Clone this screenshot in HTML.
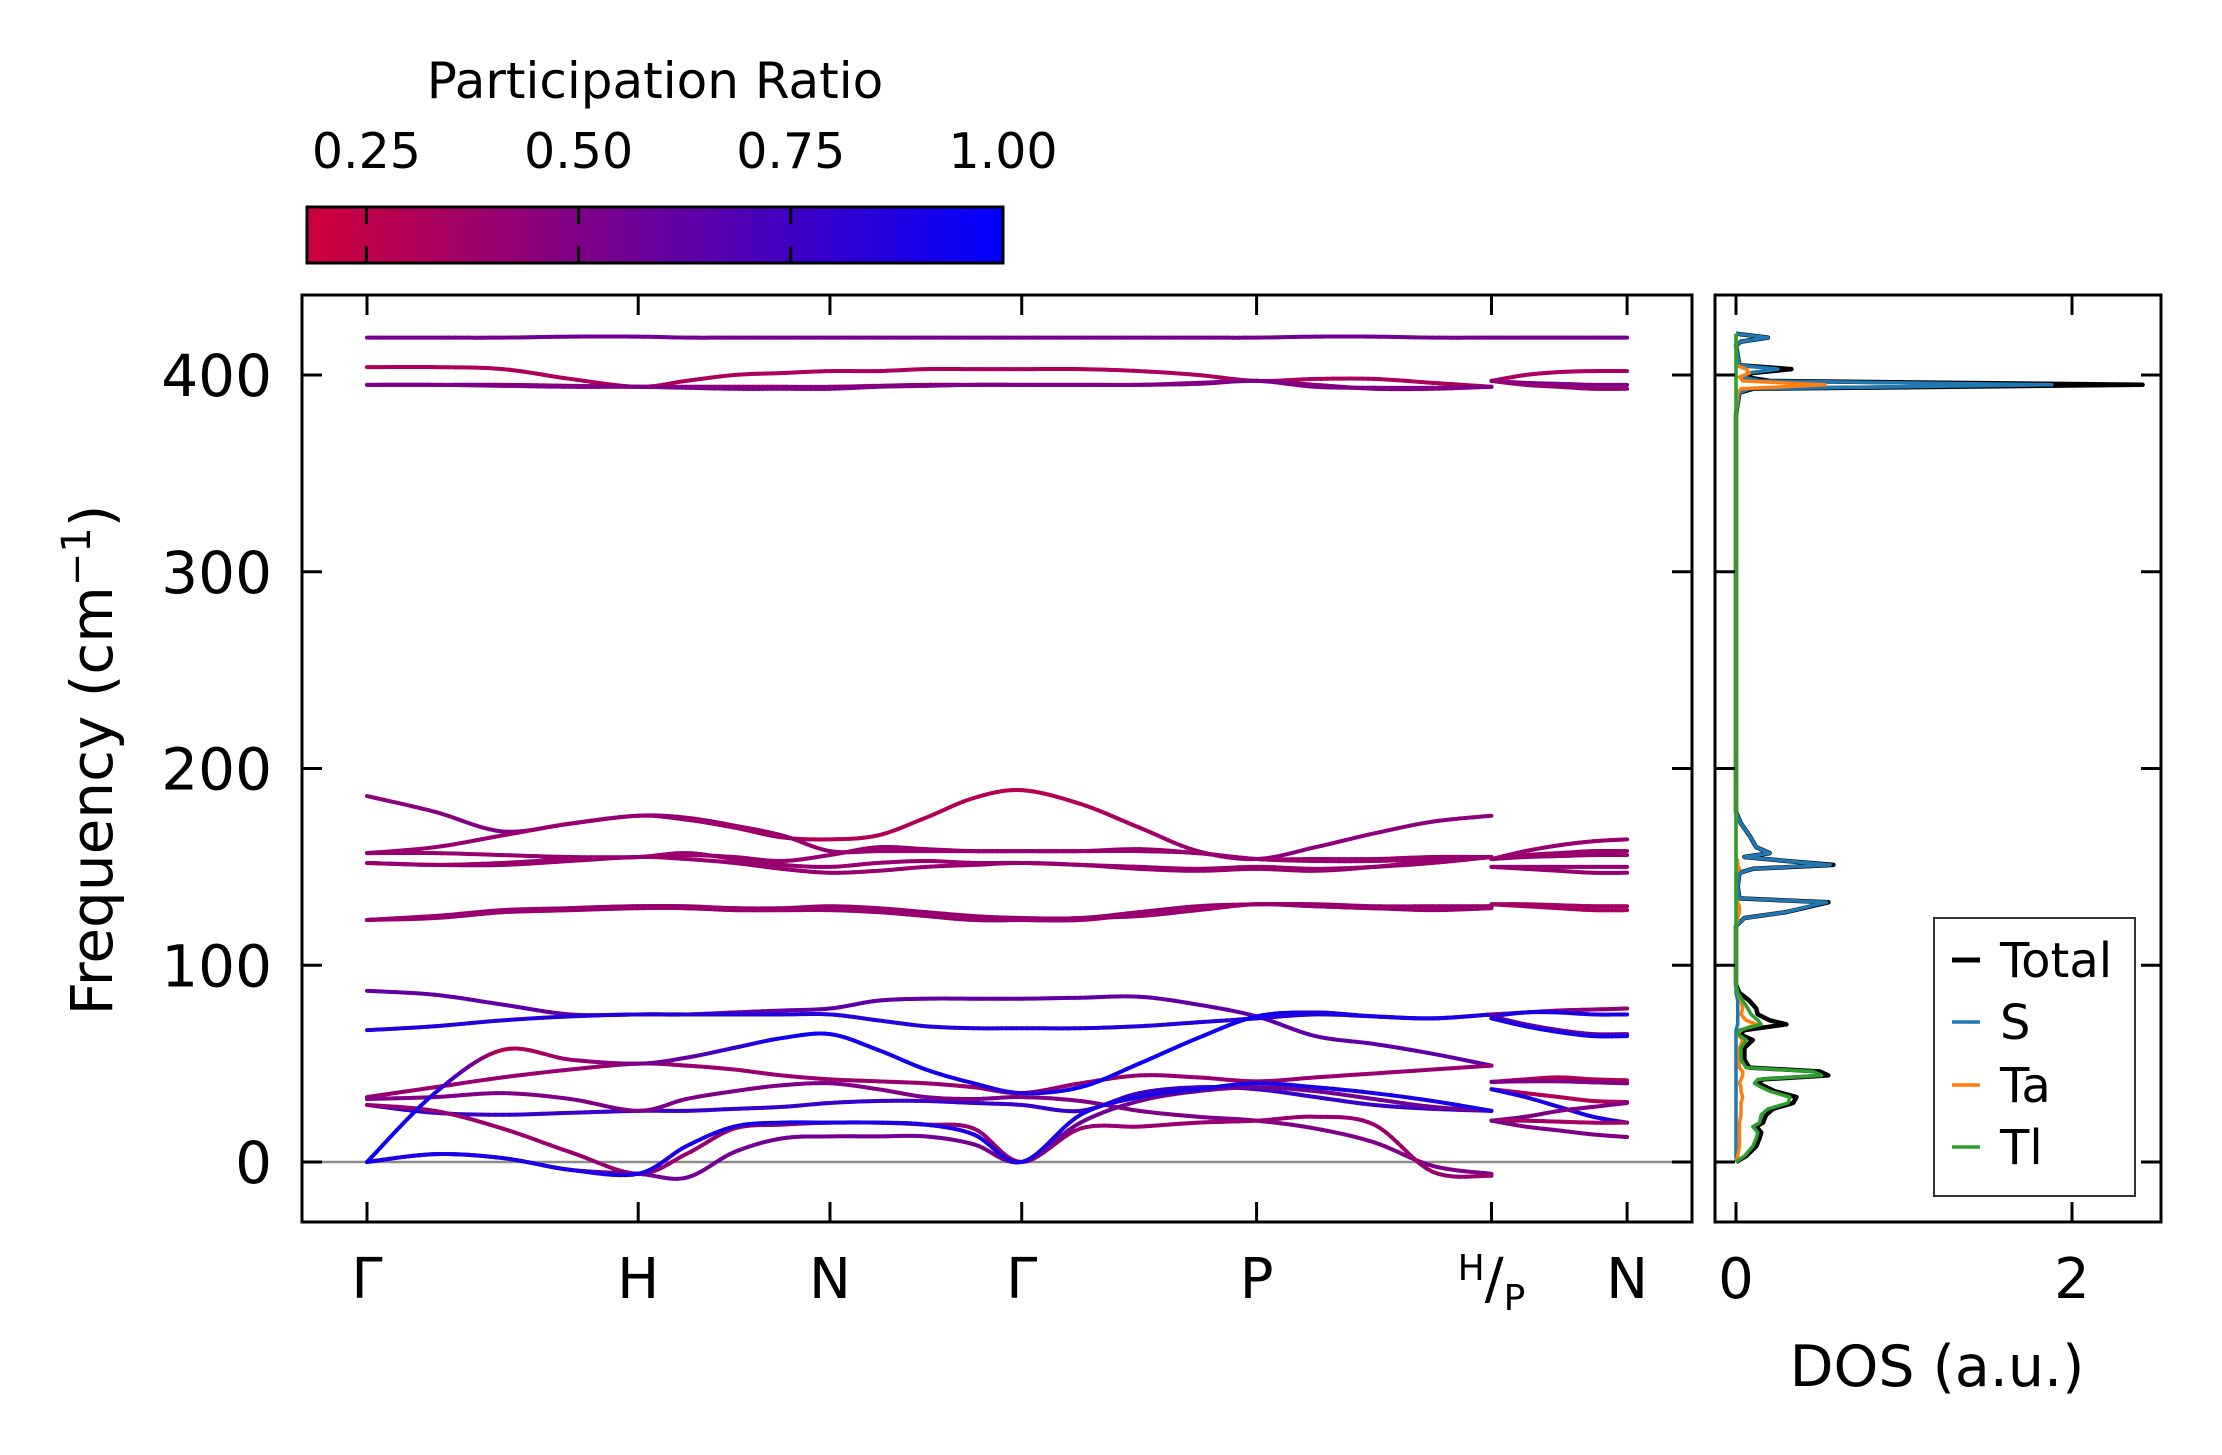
<!DOCTYPE html>
<html><head><meta charset="utf-8"><style>
html,body{margin:0;padding:0;background:#fff;}
svg{display:block;font-family:"DejaVu Sans","Liberation Sans",sans-serif;}
</style></head><body>
<svg id="fig" width="2222" height="1455" viewBox="0 0 2222 1455" xmlns="http://www.w3.org/2000/svg">
<defs><linearGradient id="cbgrad" x1="0" x2="1" y1="0" y2="0"><stop offset="0" stop-color="rgb(208,0,58)"/><stop offset="1" stop-color="rgb(0,0,255)"/></linearGradient></defs>
<rect width="2222" height="1455" fill="#fff"/>
<g id="cbar"></g>
<g id="bands"></g>
<g id="dos"></g>
</svg>
<script>
// ---------- data ----------
const kLabels = ["Γ","H","N","Γ","P","H/P","N"];
const kPos = [0, 1, 1.7071, 2.4142, 3.2802, 4.1463, 4.6463];
const yTicks = [0,100,200,300,400];
const cbTicks = [0.25,0.5,0.75,1.0];
const cbTickLabels = ["0.25","0.50","0.75","1.00"];
// path A nodes: Γ a1 a2 a3 H | b1 b2 b3 N | c1 c2 c3 Γ | d1 d2 d3 P | e1 e2 e3 H
const bandH1 = [419,419,419,419.5,419.5,419,419,419,419,419,419,419,419,419,419,419,419,419.5,419.5,419,419];
const bandH2 = [404,404,403,398,394,397,400,401,402,402,403,403,403,403,402,400,397,398,398,396,394];
const bandH3 = [395,395,395,394.5,394,394,394,394,394,394.5,395,395,395,395,395,396,397,395,393,393,394];
const bandH4 = [395,395,394.5,394,394,393.5,393,393,393,394,394.5,395,395,395,395,395.5,397,394,393.5,393.5,394];
const bandM1 = [186,178,168,172,176,174,170,165,164,166,175,185,189,182,170,158,154,160,167,173,176];
const bandM2 = [157,160,166,172,176,175,171,166,158,158,158,158,158,158,158,157,154,154,154,155,155];
const bandM3 = [157,157,156,155,155,156,155,153,156,160,159,158,158,158,159,157,154,153,153,154,155];
const bandM4 = [152,151,152,154,155,157,154,151,150,152,153,152,152,151,150,149,150,149,150,152,155];
const bandM5 = [152,151,151,153,155,154,152,149,147,148,150,151,152,151,149,148,149,148,150,153,155];
const bandM6 = [123,125,128,129,130,130,129,129,130,129,127,125,124,124,127,130,131,131,130,130,130];
const bandM7 = [123,124,127,129,130,129,129,128,129,128,126,124,123,123,126,129,131,130,129,129,130];
const bandM8 = [123,125,127,128,129,129,128,128,128,127,125,123,123,124,125,128,131,130,129,128,129];
const bandL1 = [87,85,80,75,75,75,76,77,78,82,83,83,83,83.5,84,80,74,64,60,55,49];
const bandL2 = [67,69,72,74,75,75,75,75,75,72,69,68,68,68,69,71,73,75,74,73,75];
const bandL3 = [33,38,43,47,50,49,47,44,42,41,40,38,35,40,44,43,41,43,45,47,49];
const bandL4 = [0,35,57,52,50,53,58,63,65,57,47,40,35,38,50,63,74,76,74,73,75];
const bandL5 = [29,25,24,25,26,26,27,28,30,31,31,30,29,26,35,38,37,33,29,27,26];
const bandL6 = [32,33,35,32,26,32,36,39,40,37,33,32,33,31,26,23,21,17,10,-2,-6];
const bandL7 = [29,26,17,5,-6,4,17,19,20,20,19,17,0,17,18,20,21,23,19,-5,-7];
const bandL8 = [0,4,2,-4,-6,8,18,20,20,20,19,14,0,24,33,37,40,38,35,31,26];
const bandL9 = [0,4,2,-4,-6,-8,5,12,13,13,13,9,0,20,31,36,38,36,32,28,26];
const prH1 = 0.55, prH2 = 0.32, prH3 = 0.42, prH4 = 0.5;
const prM1 = [0.45,0.45,0.5,0.45,0.4,0.4,0.35,0.35,0.3,0.3,0.3,0.3,0.28,0.3,0.35,0.4,0.45,0.45,0.45,0.45,0.45];
const prM = 0.4;
const prL1 = 0.62, prL2 = 0.85, prL3 = 0.4;
const prL4 = [1,0.9,0.28,0.4,0.5,0.6,0.8,0.95,0.95,0.9,0.95,0.9,0.85,0.95,0.95,0.95,0.95,0.9,0.9,0.9,0.9];
const prL5 = 0.78, prL6 = 0.5, prL7 = 0.4, prL8 = 0.9, prL9 = 0.55;
// path B nodes: P .. N
const bandB = [
 [419,419,419,419,419],[397,400,401.5,402,402],[397,396,395.5,395,395],[397,395,394,393,393],
 [154,158,161,163,164],[154,156,157,158,158],[154,155,155.5,156,156],[150,150,150,150,150],[150,149,148,147,147],
 [131,131,130.5,130,130],[131,130,129,128,128],
 [75,76,77,77.5,78],[74,76,76,75,75],[74,70,67,65,65],[73,69,66,64,64],
 [40.7,42,43,42,41.5],[40.7,41,41,40.5,40],[37,35,33,31,30.5],[37,33,28,23,20],
 [21,23,26,28,30],[21,21,20.5,20,20],[21,18,16,14,12.7]];
const prB = [0.55,0.32,0.5,0.42, 0.4,0.4,0.4,0.4,0.4,0.35,0.35, 0.45,0.9,0.6,0.9, 0.3,0.5,0.3,0.9, 0.5,0.35,0.5];
// DOS
const dosFreq = [0,3,8,12,15,18,20,24,27,30,33,36,38,40,42,44,46,48,52,58,62,65,67,70,72,75,78,82,86,90,120,124,127,130,132,134,140,147,149,151,153,155,157,160,166,172,178,200,380,391,393,395,397,399,401,403,405,415,417,419,421];
const dosTotal = [0,.06,.12,.14,.15,.12,.16,.18,.22,.34,.36,.23,.18,.13,.16,.55,.50,.08,.05,.05,.1,.02,.05,.30,.2,.13,.12,.08,.02,0,0,.05,.3,.45,.55,.02,.01,.02,.1,.58,.3,.05,.2,.12,.08,.03,0,0,0,.02,.1,2.42,.2,.05,.1,.33,.02,0,.03,.19,0];
const dosS = [0,0,0,0,0,0,0,0,0,0,0,0,0,0,0,0,0,0,0,0,0,0,0,.01,.01,.01,.01,.01,0,0,0,.05,.3,.44,.54,.02,.01,.02,.1,.56,.3,.05,.2,.12,.08,.03,0,0,0,.02,.08,1.88,.15,.04,.07,.25,.02,0,.03,.19,0];
const dosTa = [0,.01,.02,.02,.02,.02,.02,.03,.03,.03,.04,.03,.03,.02,.03,.04,.04,.02,.02,.02,.04,.01,.03,.12,.06,.03,.04,.03,.01,0,0,.01,.02,.02,.01,0,0,0,.02,.01,.01,0,0,0,0,0,0,0,0,.01,.03,.53,.04,.02,.08,.06,0,0,0,0,0];
const dosTl = [0,.05,.10,.12,.13,.10,.14,.15,.19,.31,.32,.2,.15,.11,.13,.51,.46,.06,.03,.03,.06,.01,.02,.15,.13,.09,.07,.04,.01,0,0,0,0,0,0,0,0,0,0,0,0,0,0,0,0,0,0,0,0,0,0,0,0,0,0,0,0,0,0,0,0];
const dosTicks = [0,2];

// ---------- helpers ----------
const NS = "http://www.w3.org/2000/svg";
function mk(tag, attrs, parent){const e=document.createElementNS(NS,tag);for(const k in attrs)e.setAttribute(k,attrs[k]);parent.appendChild(e);return e;}
const AX = {l:302,r:1692,t:295,b:1222};
const DX = {l:1715,r:2161};
const X = k => 367 + k*271.2;
const Y = f => 1162 - f*1.9675;
const DXv = v => 1736 + v*168;
const CB = {l:307,r:1003,t:207,b:263,min:0.18,max:1.0};
const CBX = p => CB.l + (p-CB.min)/(CB.max-CB.min)*(CB.r-CB.l);
function prColor(p){const t=Math.max(0,Math.min(1,(p-0.18)/0.82));return `rgb(${Math.round(208*(1-t))},0,${Math.round(58+197*t)})`;}

// ---------- colorbar ----------
const cb = document.getElementById('cbar');
let e = mk('rect',{x:CB.l,y:CB.t,width:CB.r-CB.l,height:CB.b-CB.t,fill:'url(#cbgrad)',stroke:'#000','stroke-width':3},cb);


cbTicks.forEach((p,i)=>{
  const x=CBX(p);
  mk('line',{x1:x,x2:x,y1:CB.t,y2:CB.t+17,stroke:'#000','stroke-width':3},cb);
  mk('line',{x1:x,x2:x,y1:CB.b-17,y2:CB.b,stroke:'#000','stroke-width':3},cb);
  const t=mk('text',{x:x,y:168,'font-size':49,'text-anchor':'middle'},cb);
  t.textContent=cbTickLabels[i];
  
  
});
e = mk('text',{x:655,y:98,'font-size':50,'text-anchor':'middle'},cb);
e.textContent='Participation Ratio';



// ---------- band structure ----------
const bg = document.getElementById('bands');
const clip = mk('clipPath',{id:'mainclip'},bg); mk('rect',{x:AX.l,y:AX.t,width:AX.r-AX.l,height:AX.b-AX.t},clip);
mk('line',{x1:AX.l,x2:AX.r,y1:Y(0),y2:Y(0),stroke:'#8c8c8c','stroke-width':2.5},bg);
const lines = mk('g',{'clip-path':'url(#mainclip)'},bg);

function nodesK(segStart, segEnd, per){const out=[];for(let s=segStart;s<segEnd;s++){for(let j=0;j<per;j++)out.push(kPos[s]+(kPos[s+1]-kPos[s])*j/per);}out.push(kPos[segEnd]);return out;}
const kA = nodesK(0,5,4);
const kB = [kPos[5], kPos[5]+0.125, kPos[5]+0.25, kPos[5]+0.375, kPos[6]];

function drawBand(ks, fs, pr, name){
  const g = mk('g',{},lines);
  
  
  const pts = ks.map((k,i)=>[X(k),Y(fs[i])]);
  const prs = ks.map((k,i)=>Array.isArray(pr)?pr[i]:pr);
  const n = pts.length, S = 10;
  for(let i=0;i<n-1;i++){
    const p0=pts[Math.max(0,i-1)],p1=pts[i],p2=pts[i+1],p3=pts[Math.min(n-1,i+2)];
    let prev=p1;
    for(let s=1;s<=S;s++){
      const t=s/S,t2=t*t,t3=t2*t;
      const x=0.5*((2*p1[0])+(-p0[0]+p2[0])*t+(2*p0[0]-5*p1[0]+4*p2[0]-p3[0])*t2+(-p0[0]+3*p1[0]-3*p2[0]+p3[0])*t3);
      const y=0.5*((2*p1[1])+(-p0[1]+p2[1])*t+(2*p0[1]-5*p1[1]+4*p2[1]-p3[1])*t2+(-p0[1]+3*p1[1]-3*p2[1]+p3[1])*t3);
      const c=prColor(prs[i]+(prs[i+1]-prs[i])*(s-0.5)/S);
      mk('line',{x1:prev[0],y1:prev[1],x2:x,y2:y,stroke:c,'stroke-width':4,'stroke-linecap':'round'},g);
      prev=[x,y];
    }
  }
}
const bandsA = [[bandH1,prH1],[bandH2,prH2],[bandH3,prH3],[bandH4,prH4],[bandM1,prM1],[bandM2,prM],[bandM3,prM],[bandM4,prM],[bandM5,prM],[bandM6,prM],[bandM7,prM],[bandM8,prM],[bandL1,prL1],[bandL2,prL2],[bandL3,prL3],[bandL5,prL5],[bandL6,prL6],[bandL7,prL7],[bandL9,prL9],[bandL8,prL8],[bandL4,prL4]];
bandsA.forEach((b,i)=>drawBand(kA,b[0],b[1],'phonon-band-'+(i+1)));
bandB.forEach((b,i)=>drawBand(kB,b,prB[i],'phonon-band-pn-'+(i+1)));

// axes frame & ticks
mk('rect',{x:AX.l,y:AX.t,width:AX.r-AX.l,height:AX.b-AX.t,fill:'none',stroke:'#000','stroke-width':3},bg);
kPos.forEach((k,i)=>{
  const x=X(k);
  mk('line',{x1:x,x2:x,y1:AX.t,y2:AX.t+20,stroke:'#000','stroke-width':3},bg);
  mk('line',{x1:x,x2:x,y1:AX.b-20,y2:AX.b,stroke:'#000','stroke-width':3},bg);
  const t=mk('text',{x:x,y:1298,'font-size':56,'text-anchor':'middle'},bg);
  
  
  if(kLabels[i]==='H/P'){
    const a=mk('tspan',{'font-size':36,dy:-18},t);a.textContent='H';
    const b=mk('tspan',{'font-size':56,dy:18},t);b.textContent='/';
    const c=mk('tspan',{'font-size':36,dy:12},t);c.textContent='P';
  } else t.textContent=kLabels[i];
});
yTicks.forEach(v=>{
  const y=Y(v);
  mk('line',{x1:AX.l,x2:AX.l+20,y1:y,y2:y,stroke:'#000','stroke-width':3},bg);
  mk('line',{x1:AX.r-20,x2:AX.r,y1:y,y2:y,stroke:'#000','stroke-width':3},bg);
  const t=mk('text',{x:272,y:y+21,'font-size':58,'text-anchor':'end'},bg);
  t.textContent=String(v);
  
  
});
e = mk('text',{x:0,y:0,'font-size':58,'text-anchor':'middle',transform:'translate(112,760) rotate(-90)'},bg);


e.appendChild(document.createTextNode('Frequency (cm'));
let sup=mk('tspan',{'font-size':40,dy:-22},e); sup.textContent='−1';
let cl=mk('tspan',{dy:22},e); cl.textContent=')';

// ---------- DOS ----------
const dg = document.getElementById('dos');
const clip2 = mk('clipPath',{id:'dosclip'},dg); mk('rect',{x:DX.l,y:AX.t,width:DX.r-DX.l,height:AX.b-AX.t},clip2);
const dl = mk('g',{'clip-path':'url(#dosclip)'},dg);
function dosLine(vals,color,w,name){
  const pts=dosFreq.map((f,i)=>DXv(vals[i]).toFixed(1)+','+Y(f).toFixed(1)).join(' ');
  const p=mk('polyline',{points:pts,fill:'none',stroke:color,'stroke-width':w,'stroke-linejoin':'round'},dl);
  
  
}
dosLine(dosTotal,'#000',4.5,'dos-total-line');
dosLine(dosS,'#1f77b4',3.5,'dos-s-line');
dosLine(dosTa,'#ff7f0e',3.5,'dos-ta-line');
dosLine(dosTl,'#2ca02c',3.5,'dos-tl-line');
mk('rect',{x:DX.l,y:AX.t,width:DX.r-DX.l,height:AX.b-AX.t,fill:'none',stroke:'#000','stroke-width':3},dg);
dosTicks.forEach(v=>{
  const x=DXv(v);
  mk('line',{x1:x,x2:x,y1:AX.t,y2:AX.t+20,stroke:'#000','stroke-width':3},dg);
  mk('line',{x1:x,x2:x,y1:AX.b-20,y2:AX.b,stroke:'#000','stroke-width':3},dg);
  const t=mk('text',{x:x,y:1298,'font-size':56,'text-anchor':'middle'},dg);
  t.textContent=String(v);
  
  
});
yTicks.forEach(v=>{
  const y=Y(v);
  mk('line',{x1:DX.l,x2:DX.l+20,y1:y,y2:y,stroke:'#000','stroke-width':3},dg);
  mk('line',{x1:DX.r-20,x2:DX.r,y1:y,y2:y,stroke:'#000','stroke-width':3},dg);
});
e = mk('text',{x:1937,y:1386,'font-size':57,'text-anchor':'middle'},dg);
e.textContent='DOS (a.u.)';


// legend
const lg = mk('g',{},dg);


mk('rect',{x:1934,y:918,width:201,height:278,fill:'#fff',stroke:'#333','stroke-width':2},lg);
const legNames=['Total','S','Ta','Tl'], legCols=['#000','#1f77b4','#ff7f0e','#2ca02c'], legY=[960,1022,1085,1147];
legNames.forEach((n,i)=>{
  const g=mk('g',{},lg);
  
  
  mk('line',{x1:1952,x2:1980,y1:legY[i],y2:legY[i],stroke:legCols[i],'stroke-width':i===0?5:3.5},g);
  const t=mk('text',{x:2000,y:legY[i]+17,'font-size':48},g);
  t.textContent=n;
});
</script>
</body></html>
